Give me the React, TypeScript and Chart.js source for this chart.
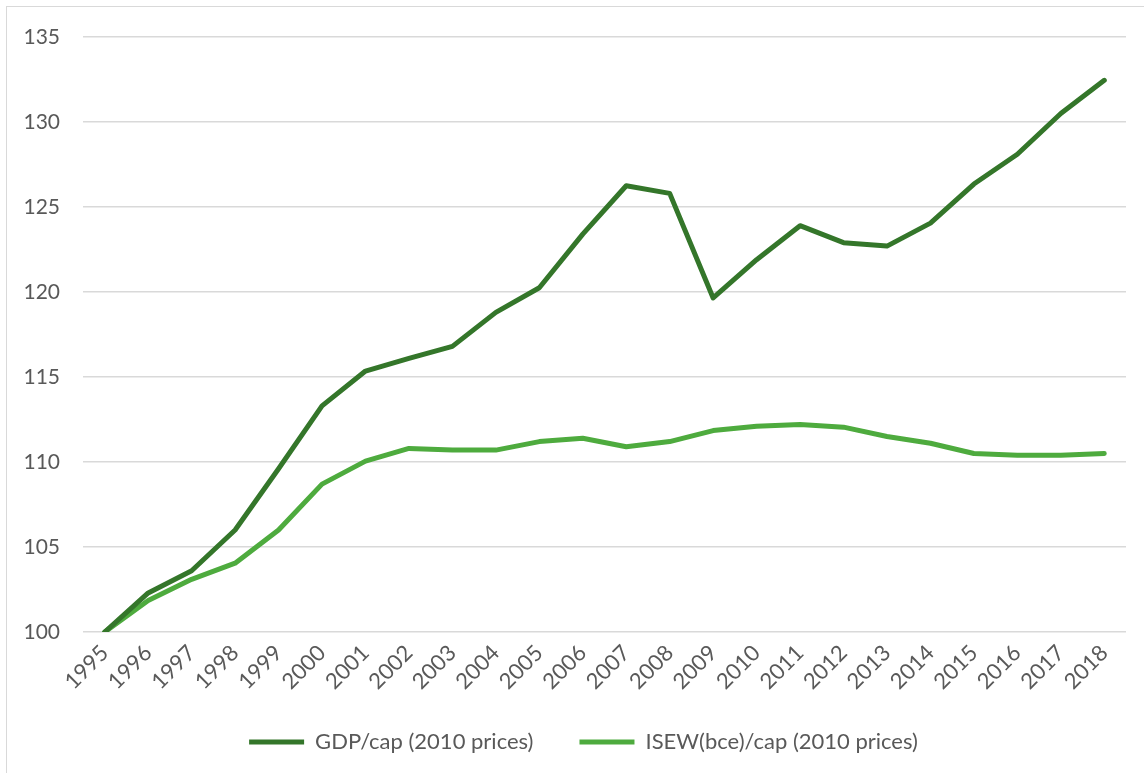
import React, { useEffect, useRef } from "react";
import { Chart, registerables } from "chart.js";

Chart.register(...registerables);

const years: string[] = [
  "1995", "1996", "1997", "1998", "1999", "2000", "2001", "2002", "2003", "2004", "2005", "2006",
  "2007", "2008", "2009", "2010", "2011", "2012", "2013", "2014", "2015", "2016", "2017", "2018",
];

const gdpPerCap: number[] = [
  100, 102.3, 103.6, 106.0, 109.6, 113.3, 115.35, 116.1, 116.8, 118.8, 120.25, 123.4,
  126.25, 125.8, 119.65, 121.9, 123.9, 122.9, 122.7, 124.05, 126.35, 128.1, 130.5, 132.45,
];

const isewPerCap: number[] = [
  100, 101.85, 103.1, 104.05, 106.0, 108.7, 110.05, 110.8, 110.7, 110.7, 111.2, 111.4,
  110.9, 111.2, 111.85, 112.1, 112.2, 112.05, 111.5, 111.1, 110.5, 110.4, 110.4, 110.5,
];

const seriesNames: string[] = ["GDP/cap (2010 prices)", "ISEW(bce)/cap (2010 prices)"];
const yTicks = { min: 100, max: 135, step: 5 };

const FONT = "Lato, 'Open Sans', sans-serif";
const TEXT = "#595959";
const GRID = "#d9d9d9";

const noLabelClip = {
  id: "noLabelClip",
  beforeDraw(chart: any) {
    Object.values(chart.scales).forEach((s: any) => {
      s._computeLabelArea = () => undefined;
    });
  },
};

export default function App() {
  const ref = useRef<HTMLCanvasElement | null>(null);

  useEffect(() => {
    if (!ref.current) return;
    const chart = new Chart(ref.current, {
      type: "line",
      data: {
        labels: years,
        datasets: [
          {
            label: seriesNames[0],
            data: gdpPerCap,
            borderColor: "#34762a",
            backgroundColor: "#34762a",
            borderWidth: 5,
            pointRadius: 0,
            tension: 0,
            borderCapStyle: "round",
            borderJoinStyle: "round",
          },
          {
            label: seriesNames[1],
            data: isewPerCap,
            borderColor: "#4eab3e",
            backgroundColor: "#4eab3e",
            borderWidth: 5,
            pointRadius: 0,
            tension: 0,
            borderCapStyle: "round",
            borderJoinStyle: "round",
          },
        ],
      },
      plugins: [noLabelClip],
      options: {
        responsive: false,
        animation: false,
        layout: { padding: { left: 34, right: 18, top: 30, bottom: 10 } },
        plugins: {
          tooltip: { enabled: false },
          legend: {
            position: "bottom",
            labels: {
              usePointStyle: true,
              pointStyle: "line",
              pointStyleWidth: 55,
              boxWidth: 55,
              padding: 46,
              color: TEXT,
              font: { family: FONT, size: 22 },
            },
          },
        },
        scales: {
          x: {
            offset: true,
            grid: { display: false, drawTicks: false },
            border: { display: false },
            ticks: {
              autoSkip: false,
              maxRotation: 45,
              minRotation: 45,
              padding: 8,
              color: TEXT,
              font: { family: FONT, size: 22 },
            },
            afterFit: (s: any) => {
              s.height = 53;
            },
          },
          y: {
            min: yTicks.min,
            max: yTicks.max,
            grid: {
              color: GRID,
              lineWidth: 1.5,
              drawTicks: true,
              tickLength: 17,
              tickColor: "rgba(0,0,0,0)",
            },
            border: { display: false },
            ticks: {
              stepSize: yTicks.step,
              padding: 6,
              color: TEXT,
              font: { family: FONT, size: 21 },
            },
            afterFit: (s: any) => {
              s.width = 42;
            },
          },
        },
      },
    });
    return () => chart.destroy();
  }, []);

  return (
    <div
      style={{
        position: "absolute",
        left: 6,
        top: 6,
        width: 1138,
        height: 767,
        borderTop: `1px solid ${GRID}`,
        borderLeft: `1px solid ${GRID}`,
        background: "#fff",
      }}
    >
      <canvas ref={ref} width={1137} height={766} style={{ display: "block" }} />
    </div>
  );
}
